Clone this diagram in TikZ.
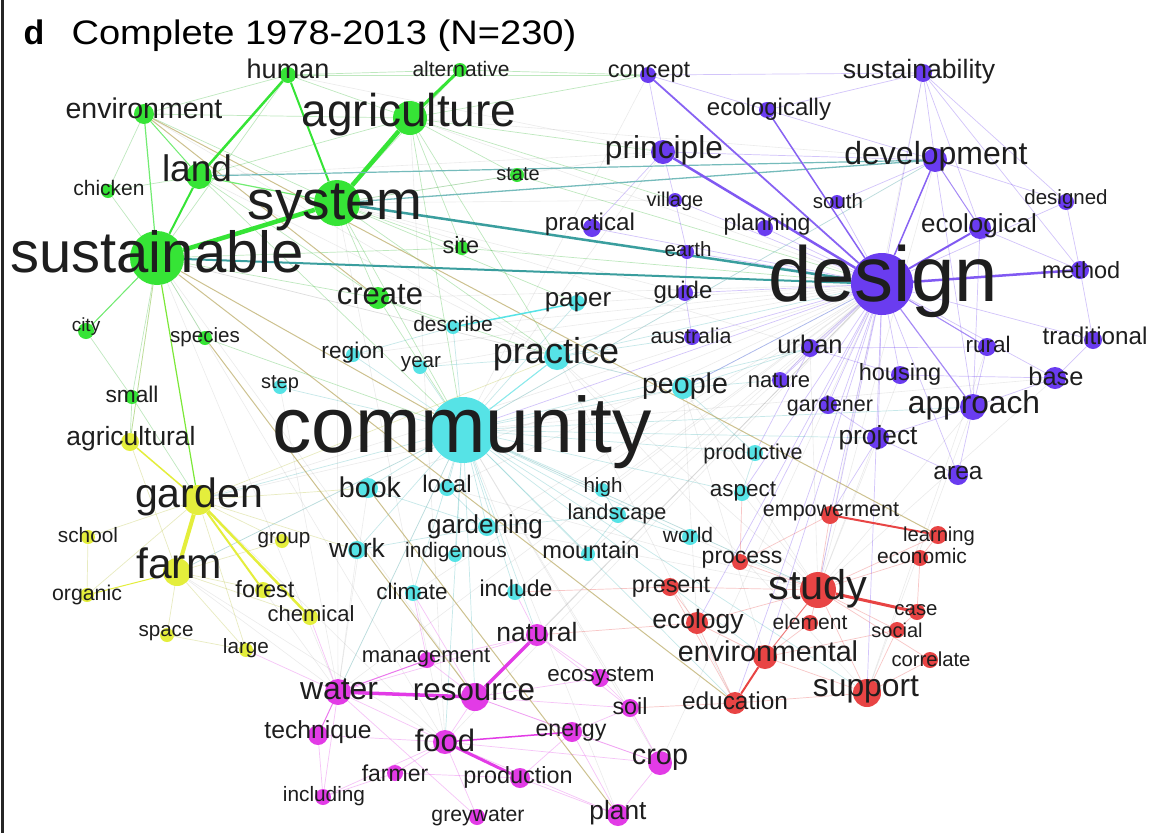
\documentclass[tikz,border=0pt]{standalone}
\usepackage{fontspec}
\setmainfont{Liberation Sans}
\usepackage{graphicx}
\pgfdeclarelayer{bg}
\pgfdeclarelayer{dots}
\pgfsetlayers{bg,dots,main}
\definecolor{cg}{HTML}{36E436}
\definecolor{cc}{HTML}{56E3E6}
\definecolor{cp}{HTML}{6A3CF0}
\definecolor{cy}{HTML}{E4EE3C}
\definecolor{cm}{HTML}{E23BE6}
\definecolor{cr}{HTML}{E84444}
\definecolor{teal2}{HTML}{3A9E9E}
\definecolor{olive2}{HTML}{B8A860}
\definecolor{txt}{HTML}{1E1E1E}
\newcommand\fs[1]{\fontsize{#1}{#1}\selectfont}
\newcommand\wn[9]{%
  \begin{pgfonlayer}{dots}\node[dot=#5, minimum size=#4*2pt] (#1) at (#2,#3) {};\end{pgfonlayer}
  \node[lab, font=\fs{#6}] (#1-l) at (#8,#9) {#7};}
\tikzset{
  dot/.style={circle, inner sep=0pt, draw=none, fill=#1},
  lab/.style={inner sep=0pt, text=txt},
  fe/.style={draw=#1, line width=0.7pt, draw opacity=0.3},
  ge/.style={draw=gray!70, line width=0.6pt, draw opacity=0.22},
  se/.style={draw=#1, line width=1.4pt},
  xe/.style={draw=olive2, line width=1pt, draw opacity=0.7},
}
\begin{document}
\begin{tikzpicture}[x=1pt,y=-1pt]
\useasboundingbox (0,0) rectangle (1158,833);
\begin{pgfonlayer}{bg}
\fill[white] (0,0) rectangle (1158,833);
\end{pgfonlayer}
\draw[line width=2.5pt, black!85] (2.5,0) -- (2.5,833);
\node[anchor=base west, font=\fs{34}\bfseries, text=black] (tld) at (20,44) {d};
\node[anchor=base west, font=\fs{34}, text=black] (tl) at (68,44) {\scalebox{1.12}[1]{Complete 1978-2013 (N=230)}};
% green
\wn{human}{288}{75}{8}{cg}{27}{human}{288}{69}
\wn{alternative}{460}{70}{7}{cg}{21}{alternative}{461}{69}
\wn{environment}{144}{114}{10}{cg}{28.5}{environment}{144}{108}
\wn{agriculture}{410}{118}{17}{cg}{46}{agriculture}{409}{115}
\wn{land}{199}{176}{13}{cg}{37}{land}{197}{168}
\wn{chicken}{108}{191}{7}{cg}{21}{chicken}{109}{188}
\wn{state}{517}{175}{7}{cg}{20}{state}{518}{174}
\wn{system}{337}{203}{23}{cg}{55}{system}{335}{207}
\wn{sustainable}{157}{258}{27}{cg}{58}{sustainable}{157}{252}
\wn{site}{462}{248}{7}{cg}{23.5}{site}{461}{245}
\wn{create}{378}{298}{11}{cg}{31}{create}{380}{295}
\wn{city}{86}{331}{8}{cg}{19}{city}{86}{327}
\wn{species}{205}{338}{7}{cg}{20.6}{species}{205}{337}
\wn{small}{132}{397}{7}{cg}{22.7}{small}{132}{394}
% yellow
\wn{agricultural}{130}{442}{9}{cy}{26.4}{agricultural}{131}{439}
\wn{garden}{198}{500}{15}{cy}{41}{garden}{199}{497}
\wn{school}{88}{537}{7}{cy}{20.8}{school}{88}{535}
\wn{group}{282}{541}{7}{cy}{20.7}{group}{284}{540}
\wn{farm}{177}{572}{14}{cy}{42.5}{farm}{179}{563}
\wn{organic}{87}{595}{7}{cy}{21.3}{organic}{87}{595}
\wn{forest}{263}{590}{8}{cy}{23.6}{forest}{265}{589}
\wn{chemical}{310}{617}{8}{cy}{22}{chemical}{311}{614}
\wn{space}{167}{635}{7}{cy}{20.6}{space}{166}{633}
\wn{large}{246}{650}{7}{cy}{20.7}{large}{246}{648}
% cyan
\wn{paper}{577}{303}{8}{cc}{26}{paper}{578}{302}
\wn{describe}{453}{327}{7}{cc}{21}{describe}{453}{324}
\wn{region}{353}{355}{7}{cc}{22.7}{region}{353}{353}
\wn{year}{420}{367}{7}{cc}{20.6}{year}{421}{364}
\wn{practice}{557}{357}{13}{cc}{36}{practice}{556}{354}
\wn{step}{280}{387}{7}{cc}{20}{step}{280}{384}
\wn{people}{683}{388}{11}{cc}{28.6}{people}{685}{386}
\wn{community}{463}{430}{33}{cc}{78.6}{community}{462}{432}
\wn{book}{368}{488}{10}{cc}{28.6}{book}{370}{487}
\wn{local}{447}{488}{8}{cc}{24}{local}{447}{484}
\wn{high}{602}{490}{7}{cc}{20.6}{high}{603}{487}
\wn{productive}{755}{453}{8}{cc}{21.5}{productive}{753}{454}
\wn{aspect}{742}{493}{8}{cc}{22.5}{aspect}{743}{492}
\wn{landscape}{618}{515}{8}{cc}{21.7}{landscape}{617}{514}
\wn{gardening}{487}{527}{9}{cc}{26}{gardening}{485}{527}
\wn{work}{357}{550}{9}{cc}{26.5}{work}{357}{548}
\wn{indigenous}{455}{555}{7}{cc}{21}{indigenous}{456}{552}
\wn{mountain}{588}{554}{7}{cc}{23.6}{mountain}{591}{550}
\wn{world}{690}{537}{8}{cc}{21}{world}{688}{535}
\wn{climate}{413}{593}{8}{cc}{22.5}{climate}{412}{591}
\wn{include}{515}{592}{8}{cc}{23}{include}{516}{588}
% purple
\wn{concept}{648}{75}{8}{cp}{23.5}{concept}{649}{72}
\wn{ecologically}{767}{110}{8}{cp}{24}{ecologically}{769}{109}
\wn{sustainability}{923}{73}{9}{cp}{26.6}{sustainability}{919}{72}
\wn{principle}{663}{152}{12}{cp}{31.7}{principle}{664}{150}
\wn{development}{935}{160}{12}{cp}{32}{development}{936}{156}
\wn{village}{675}{200}{7}{cp}{20}{village}{675}{201}
\wn{south}{837}{202}{7}{cp}{20.5}{south}{838}{201}
\wn{designed}{1066}{202}{8}{cp}{20.5}{designed}{1066}{199}
\wn{practical}{592}{228}{9}{cp}{24.2}{practical}{590}{224}
\wn{planning}{765}{228}{8}{cp}{23}{planning}{767}{225}
\wn{ecological}{980}{228}{11}{cp}{26}{ecological}{979}{226}
\wn{earth}{687}{252}{7}{cp}{20.6}{earth}{688}{249}
\wn{design}{882}{284}{31}{cp}{78}{design}{883}{281}
\wn{method}{1080}{270}{9}{cp}{23.5}{method}{1081}{270}
\wn{guide}{685}{293}{8}{cp}{24}{guide}{683}{292}
\wn{australia}{692}{337}{8}{cp}{21.4}{australia}{691}{336}
\wn{urban}{810}{348}{9}{cp}{25.5}{urban}{810}{344}
\wn{rural}{987}{347}{9}{cp}{22.5}{rural}{988}{344}
\wn{traditional}{1093}{340}{9}{cp}{24.2}{traditional}{1095}{336}
\wn{nature}{780}{380}{8}{cp}{22}{nature}{779}{380}
\wn{housing}{900}{375}{9}{cp}{23.5}{housing}{900}{374}
\wn{base}{1055}{378}{11}{cp}{25.4}{base}{1056}{376}
\wn{gardener}{828}{405}{9}{cp}{21.5}{gardener}{830}{406}
\wn{approach}{973}{407}{13}{cp}{31.7}{approach}{974}{405}
\wn{project}{878}{438}{11}{cp}{26.3}{project}{878}{438}
\wn{area}{958}{475}{10}{cp}{24.5}{area}{958}{473}
% red
\wn{empowerment}{830}{515}{9}{cr}{21.5}{empowerment}{831}{512}
\wn{learning}{938}{535}{9}{cr}{20.2}{learning}{939}{536}
\wn{economic}{920}{558}{8}{cr}{21}{economic}{922}{556}
\wn{process}{740}{562}{8}{cr}{23}{process}{742}{560}
\wn{present}{670}{587}{9}{cr}{23.4}{present}{671}{587}
\wn{study}{818}{590}{18}{cr}{41.5}{study}{818}{589}
\wn{case}{917}{612}{8}{cr}{20.4}{case}{916}{610}
\wn{ecology}{697}{623}{11}{cr}{26.5}{ecology}{698}{622}
\wn{element}{810}{623}{8}{cr}{21}{element}{810}{622}
\wn{social}{897}{630}{8}{cr}{20}{social}{897}{630}
\wn{environmental}{765}{657}{12}{cr}{28.7}{environmental}{768}{651}
\wn{correlate}{930}{660}{8}{cr}{20.3}{correlate}{931}{659}
\wn{support}{867}{693}{14}{cr}{31.8}{support}{866}{690}
\wn{education}{735}{703}{11}{cr}{24.4}{education}{735}{701}
% magenta
\wn{management}{427}{660}{8}{cm}{22}{management}{426}{658}
\wn{natural}{537}{635}{11}{cm}{26.5}{natural}{537}{632}
\wn{ecosystem}{600}{678}{9}{cm}{22.4}{ecosystem}{601}{677}
\wn{water}{338}{692}{13}{cm}{31.9}{water}{339}{689}
\wn{resource}{475}{697}{14}{cm}{31.4}{resource}{474}{692}
\wn{soil}{630}{708}{9}{cm}{23.3}{soil}{630}{706}
\wn{technique}{318}{735}{10}{cm}{24.7}{technique}{318}{732}
\wn{food}{445}{742}{12}{cm}{31}{food}{445}{740}
\wn{energy}{572}{732}{10}{cm}{23.2}{energy}{571}{733}
\wn{crop}{660}{763}{12}{cm}{28.8}{crop}{660}{760}
\wn{farmer}{395}{773}{8}{cm}{23}{farmer}{395}{773}
\wn{production}{520}{778}{10}{cm}{23.4}{production}{518}{777}
\wn{including}{323}{797}{8}{cm}{20.8}{including}{324}{796}
\wn{greywater}{477}{817}{8}{cm}{21.2}{greywater}{478}{817}
\wn{plant}{618}{815}{11}{cm}{26.3}{plant}{618}{813}
% edges
\begin{pgfonlayer}{bg}
\foreach \a/\b in {agriculture/design, system/principle, system/urban, sustainable/practice, sustainable/people, land/practice, environment/practice, garden/design, garden/people, farm/community, community/base, water/community, resource/design, natural/design, study/community, practice/study, practice/support, people/study, people/environmental, local/design, book/design, gardening/design, development/community, principle/community, concept/community, design/food, urban/study, housing/study, approach/study, project/study, base/study, sustainable/water, sustainable/resource, sustainable/food, system/water, system/food, agriculture/food, garden/food, farm/food, farm/water, garden/water, community/crop, community/plant, community/soil, design/water, design/natural, design/crop, approach/support, rural/support, development/study, sustainability/study, agriculture/development, system/village, system/guide, land/principle, human/principle, create/design, practice/education, people/ecology, landscape/design, high/design, aspect/study, world/study, gardening/study, local/study, book/water, work/water, step/water, region/design, year/design, describe/design, paper/design, climate/design, include/design, mountain/design}
  \draw[ge] (\a) -- (\b);
\foreach \a/\b in {environment/human, environment/agriculture, environment/system, environment/chicken, human/alternative, human/agriculture, human/sustainable, human/concept, alternative/concept, alternative/system, land/agriculture, land/chicken, land/create, land/community, chicken/sustainable, sustainable/create, sustainable/site, sustainable/city, sustainable/small, sustainable/species, sustainable/agricultural, system/create, system/site, system/state, system/community, system/practice, system/paper, agriculture/state, agriculture/site, agriculture/practice, agriculture/community, agriculture/principle, agriculture/village, agriculture/concept, create/community, create/practice, state/design, site/design, city/small, species/community, small/agricultural, small/garden, create/describe}
  \draw[fe=cg!80!black] (\a) -- (\b);
\foreach \a/\b in {community/practice, community/people, community/local, community/book, community/gardening, community/work, community/region, community/year, community/step, community/describe, community/paper, community/garden, community/farm, community/water, community/resource, community/study, community/support, community/education, community/urban, community/development, community/high, community/landscape, community/aspect, community/world, community/productive, community/include, community/climate, community/indigenous, community/mountain, community/natural, community/food, community/project, community/approach, community/environmental, practice/design, practice/people, practice/guide, practice/australia, people/design, people/urban, people/nature, local/gardening, book/gardening, work/gardening, gardening/landscape, high/landscape, landscape/world, aspect/productive, people/productive, mountain/landscape, region/describe, year/practice}
  \draw[fe=cc!80!black] (\a) -- (\b);
\foreach \a/\b in {design/urban, design/rural, design/housing, design/base, design/traditional, design/project, design/gardener, design/nature, design/area, design/sustainability, design/south, design/village, design/earth, design/guide, design/australia, design/practical, design/designed, design/planning, design/people, development/sustainability, development/designed, development/south, development/ecologically, development/principle, development/approach, sustainability/ecologically, sustainability/concept, sustainability/ecological, sustainability/method, sustainability/designed, concept/principle, concept/ecologically, principle/village, principle/practical, village/earth, earth/guide, guide/australia, approach/base, approach/project, project/area, rural/approach, housing/base, urban/nature, urban/rural, urban/housing, traditional/method, traditional/base, designed/method, ecological/method, ecological/approach, area/approach, gardener/project, design/study, design/environmental, design/education, design/support, design/empowerment, design/process, design/community, project/empowerment, urban/productive, design/aspect, design/ecology}
  \draw[fe=cp] (\a) -- (\b);
\foreach \a/\b in {study/element, study/social, study/economic, study/present, study/process, study/ecology, study/support, study/correlate, study/empowerment, study/learning, environmental/ecology, environmental/support, environmental/social, environmental/element, support/correlate, support/social, education/support, education/soil, education/ecology, education/present, economic/learning, economic/case, empowerment/process, present/ecology, process/aspect, case/social, ecology/natural, present/include}
  \draw[fe=cr] (\a) -- (\b);
\foreach \a/\b in {water/natural, water/food, water/including, water/greywater, resource/food, resource/energy, resource/management, resource/ecosystem, resource/soil, resource/crop, food/farmer, food/including, food/plant, food/crop, energy/soil, energy/plant, energy/crop, ecosystem/soil, soil/crop, crop/plant, production/plant, greywater/food, natural/ecosystem, natural/management, natural/soil, including/farmer, technique/including, technique/food, management/climate, water/large, water/chemical, resource/climate, natural/include, production/energy, farmer/production}
  \draw[fe=cm] (\a) -- (\b);
\foreach \a/\b in {agricultural/farm, garden/school, garden/group, garden/large, garden/organic, farm/space, farm/forest, farm/large, farm/group, garden/practice, garden/book, garden/work, farm/chemical, school/organic, agricultural/sustainable, space/large}
  \draw[fe=cy!80!black] (\a) -- (\b);
% long cross lines
\foreach \a/\b in {sustainable/community, environment/learning, sustainable/education, species/resource, book/plant, environment/create}
  \draw[xe] (\a) -- (\b);
% strong edges
\draw[se=cg, line width=4.5pt] (sustainable) -- (system);
\draw[se=cg, line width=4.5pt] (system) -- (agriculture);
\draw[se=cg, line width=3pt] (agriculture) -- (alternative);
\draw[se=cg, line width=2.5pt] (human) -- (land);
\draw[se=cg, line width=2pt] (human) -- (system);
\draw[se=cg, line width=2pt] (land) -- (sustainable);
\draw[se=cg!70, line width=1.2pt] (environment) -- (sustainable);
\draw[se=cg!70, line width=1pt] (environment) -- (land);
\draw[se=cg!60!cy, line width=1.2pt] (sustainable) -- (garden);
\draw[se=cg!70, line width=1.2pt] (land) -- (system);
\draw[se=cg!70, line width=1pt] (sustainable) -- (city);
\draw[se=teal2, line width=2.5pt] (system) -- (design);
\draw[se=teal2, line width=2pt] (sustainable) -- (design);
\draw[se=teal2!70, line width=1.3pt] (system) -- (development);
\draw[se=teal2!70, line width=1.2pt] (land) -- (development);
\draw[se=cp!85, line width=2.5pt] (principle) -- (design);
\draw[se=cp!80, line width=1.8pt] (concept) -- (design);
\draw[se=cp!80, line width=1.5pt] (ecologically) -- (design);
\draw[se=cp!80, line width=1.5pt] (development) -- (design);
\draw[se=cp!85, line width=2pt] (ecological) -- (design);
\draw[se=cp!85, line width=2.5pt] (method) -- (design);
\draw[se=cp!60, line width=1.2pt] (design) -- (approach);
\draw[se=cp!60, line width=1pt] (design) -- (rural);
\draw[se=cp!60, line width=1pt] (development) -- (ecological);
\draw[se=cy, line width=4pt] (garden) -- (farm);
\draw[se=cy, line width=2pt] (garden) -- (forest);
\draw[se=cy, line width=2.5pt] (garden) -- (chemical);
\draw[se=cy, line width=1.5pt] (agricultural) -- (garden);
\draw[se=cy, line width=1pt] (farm) -- (organic);
\draw[se=cm, line width=3.5pt] (water) -- (resource);
\draw[se=cm, line width=3.5pt] (resource) -- (natural);
\draw[se=cm, line width=3pt] (food) -- (production);
\draw[se=cm, line width=1.5pt] (food) -- (energy);
\draw[se=cm!70, line width=1pt] (water) -- (technique);
\draw[se=cm!70, line width=1pt] (water) -- (management);
\draw[se=cr, line width=3pt] (study) -- (case);
\draw[se=cr, line width=2pt] (empowerment) -- (learning);
\draw[se=cr, line width=2pt] (environmental) -- (education);
\draw[se=cr!70, line width=1pt] (study) -- (environmental);
\draw[se=cc, line width=1.5pt] (paper) -- (describe);
\draw[se=cc!70, line width=1pt] (practice) -- (community);
\end{pgfonlayer}
\end{tikzpicture}
\end{document}
